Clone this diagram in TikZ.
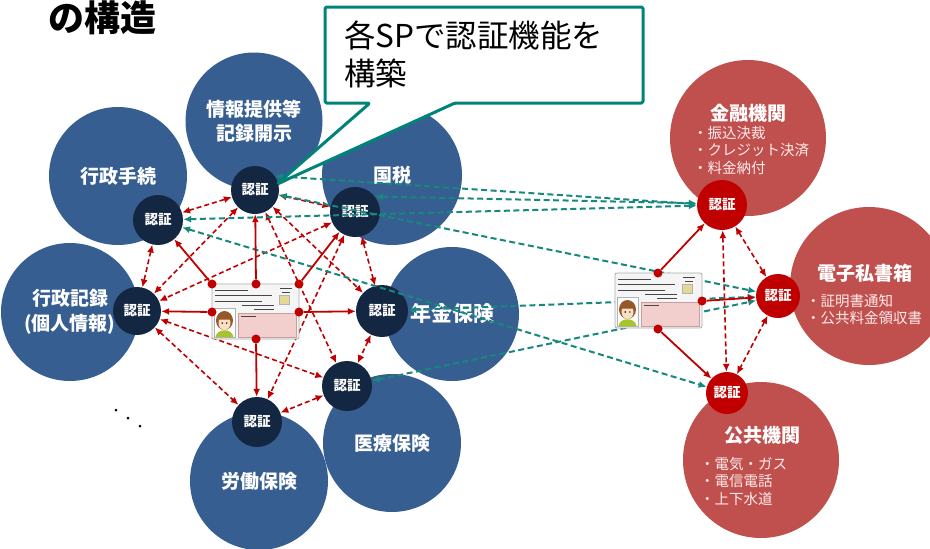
\documentclass[tikz,border=0pt]{standalone}
\usepackage{fontspec}
\newfontfamily\jp{Noto Sans CJK JP}
\usetikzlibrary{arrows.meta}

\definecolor{blueC}{RGB}{55,94,145}
\definecolor{navyC}{RGB}{19,38,66}
\definecolor{roseC}{RGB}{192,80,77}
\definecolor{redC}{RGB}{192,0,0}
\definecolor{tealC}{RGB}{22,136,126}
\definecolor{boxC}{RGB}{0,132,122}
\definecolor{cardpink}{RGB}{242,206,204}
\definecolor{chipC}{RGB}{228,216,150}
\definecolor{hairC}{RGB}{150,88,40}
\definecolor{skinC}{RGB}{252,224,196}
\definecolor{shirtC}{RGB}{168,196,44}

\tikzset{cardtxt/.style={line width=1pt, draw=gray!55!black}}

% one number card, top left corner at (#1,#2)
\def\idcard(#1,#2){%
  \begin{scope}[shift={(#1,#2)}]
    \draw[line width=0.8pt, draw=gray!65, fill=gray!8, rounded corners=2pt] (0,0) rectangle (87,55);
    \draw[line width=0.5pt, draw=red!25!gray!60, fill=cardpink] (26,29) rectangle (84,53);
    \draw[line width=0.4pt, draw=gray!60, fill=chipC] (67,11) rectangle (77,20);
    \draw[line width=0.4pt, draw=gray!60, fill=white] (2,24) rectangle (23,53);
    % photo
    \fill[hairC] (12.5,36.5) ellipse [x radius=8.5pt, y radius=9.5pt];
    \fill[shirtC] (3.5,53) .. controls (5,44) and (20,44) .. (21.5,53) -- cycle;
    \fill[skinC] (12.5,39) ellipse [x radius=6pt, y radius=7pt];
    \fill[hairC] (6.5,35.5) .. controls (8,29) and (17,29) .. (18.5,35.5) -- cycle;
    \fill[black] (10.2,39) circle (0.8pt) (14.8,39) circle (0.8pt);
    % printed lines
    \foreach \ly/\lx in {6/36, 11.5/60, 17/50}
      \draw[cardtxt] (3,\ly) -- (\lx,\ly);
    \draw[cardtxt] (68,4) -- (80,4) (70,8) -- (78,8);
    \draw[cardtxt, line width=0.6pt] (30,21) -- (62,21) (42,25) -- (62,25) (29,32) -- (44,32);
  \end{scope}}

\begin{document}
\begin{tikzpicture}[x=1pt, y=-1pt,
    bigblue/.style={circle, fill=blueC, minimum size=138pt, inner sep=0pt, text=white, align=center,
      font=\jp\bfseries\fontsize{19}{24.5}\selectfont},
    bigrose/.style={circle, fill=roseC, minimum size=156pt, inner sep=0pt},
    ninsho/.style={circle, fill=navyC, minimum size=50pt, inner sep=0pt, text=white,
      font=\jp\bfseries\fontsize{13.5}{14}\selectfont},
    rninsho/.style={ninsho, fill=redC},
    rosehead/.style={text=white, inner sep=0pt, font=\jp\bfseries\fontsize{19}{22}\selectfont},
    rosebul/.style={text=white!92!red, align=left, anchor=north west, inner sep=0pt,
      font=\jp\fontsize{14.5}{17.5}\selectfont},
    cdot/.style={circle, fill=redC, minimum size=9pt, inner sep=0pt},
    link/.style={redC, line width=1.8pt, -{Latex[length=8pt,width=7pt]}},
    dlink/.style={redC, line width=1.6pt, dash pattern=on 5pt off 3pt,
      {Latex[length=8pt,width=7pt]}-{Latex[length=8pt,width=7pt]}},
    tlink/.style={tealC, line width=2pt, dash pattern=on 6pt off 3.5pt,
      {Latex[length=8pt,width=7pt]}-{Latex[length=8pt,width=7pt]}},
  ]
  \fill[white] (0,0) rectangle (930,549);
  \useasboundingbox (0,0) rectangle (930,549);

  % public services
  \node[bigblue] (gyo) at (118,176) {行政手続};
  \node[bigblue, minimum size=137pt] (joho) at (254,121) {情報提供等\\記録開示};
  \node[bigblue, minimum size=140pt] (koku) at (392,175) {国税};
  \node[bigblue] (kiro) at (70,312) {行政記録\\(個人情報)};
  \node[bigblue, minimum size=134pt, font=\jp\bfseries\fontsize{21}{25}\selectfont] (nen) at (452,314) {年金保険};
  \node[bigblue] (iryo) at (392,443) {医療保険};
  \node[bigblue] (rodo) at (259,481) {労働保険};

  % private services
  \node[bigrose] (kin) at (748,138) {};
  \node[bigrose, minimum size=158pt] (shi) at (869,286) {};
  \node[bigrose] (kyo) at (761,460) {};
  \node[rosehead] (kin-t) at (748,113) {金融機関};
  \node[rosebul] (kin-b) at (693,126) {・振込決裁\\・クレジット決済\\・料金納付};
  \node[rosehead] (shi-t) at (865,273) {電子私書箱};
  \node[rosebul] (shi-b) at (806,294) {・証明書通知\\・公共料金領収書};
  \node[rosehead] (kyo-t) at (762,435) {公共機関};
  \node[rosebul] (kyo-b) at (700,457) {・電気・ガス\\・電信電話\\・上下水道};

  % authentication at each SP
  \node[ninsho] (gyo-au) at (158,220) {認証};
  \node[ninsho, minimum size=48pt] (joho-au) at (255,190) {認証};
  \node[ninsho] (koku-au) at (355,212) {認証};
  \node[ninsho, minimum size=48pt] (kiro-au) at (137,311) {認証};
  \node[ninsho, minimum size=52pt] (nen-au) at (382,311) {認証};
  \node[ninsho] (iryo-au) at (347,386) {認証};
  \node[ninsho] (rodo-au) at (257,422) {認証};
  \node[rninsho] (kin-au) at (722,205) {認証};
  \node[rninsho, minimum size=44pt] (shi-au) at (778,296) {認証};
  \node[rninsho, minimum size=42pt] (kyo-au) at (727,393) {認証};

  % links between the SPs
  \foreach \p/\q in {gyo-au/joho-au, joho-au/koku-au, gyo-au/kiro-au, koku-au/nen-au,
      nen-au/iryo-au, iryo-au/rodo-au, joho-au/kiro-au, koku-au/kiro-au, joho-au/nen-au,
      joho-au/iryo-au, koku-au/rodo-au, kiro-au/iryo-au, kiro-au/rodo-au,
      kin-au/shi-au, kin-au/kyo-au, shi-au/kyo-au}
    \draw[dlink] (\p) -- (\q);

  \draw[tlink] (gyo-au) -- (kin-au);
  \draw[tlink] (joho-au.35) -- (kin-au.178);
  \draw[tlink] (koku-au.38) -- (kin-au.176);
  \draw[tlink] (joho-au) -- (shi-au);
  \draw[tlink] (nen-au) -- (shi-au);
  \draw[tlink] (iryo-au) -- (shi-au);
  \draw[tlink] (gyo-au) -- (kyo-au);

  % cards
  \idcard(212,284)
  \idcard(615,273)

  \node[cdot] (lc-tl) at (212,284) {};
  \node[cdot] (lc-t) at (256,284) {};
  \node[cdot] (lc-tr) at (299,284) {};
  \node[cdot] (lc-l) at (212,312) {};
  \node[cdot] (lc-r) at (299,312) {};
  \node[cdot] (lc-b) at (256,339) {};
  \node[cdot] (rc-t) at (658,273) {};
  \node[cdot] (rc-r) at (702,301) {};
  \node[cdot] (rc-b) at (658,329) {};

  \draw[link] (lc-tl) -- (gyo-au);
  \draw[link] (lc-t) -- (joho-au);
  \draw[link] (lc-tr) -- (koku-au);
  \draw[link] (lc-l) -- (kiro-au);
  \draw[link] (lc-r) -- (nen-au);
  \draw[link] (lc-b) -- (rodo-au);
  \draw[link] (rc-t) -- (kin-au);
  \draw[link] (rc-r) -- (shi-au);
  \draw[link] (rc-b) -- (kyo-au);

  % and so on
  \fill (116,410) circle (1.5pt) (128,418) circle (1.5pt) (140,426) circle (1.5pt);

  % callout
  \draw[boxC, line width=3pt, fill=white, line join=round, rounded corners=1.5pt]
    (325,7) -- (643,7) -- (643,103) -- (455,103) -- (277,184) -- (370,103) -- (325,103) -- cycle;
  \node[anchor=north west, align=left, inner sep=0pt, font=\jp\fontsize{31.5}{38}\selectfont] (note)
    at (344,21) {各SPで認証機能を\\構築};

  \node[anchor=base west, inner sep=0pt, font=\jp\bfseries\fontsize{36}{40}\selectfont] (title)
    at (48,31) {の構造};
\end{tikzpicture}
\end{document}
